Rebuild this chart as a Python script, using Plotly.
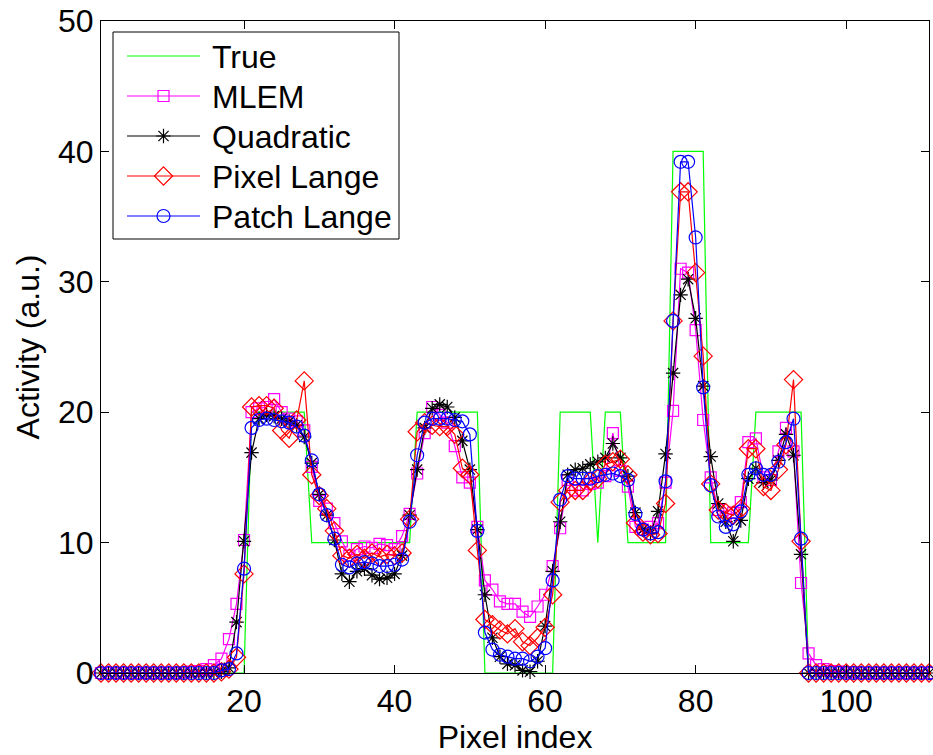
import plotly.graph_objects as go

pixel_index = list(range(1, 112))

true_vals = [0]*20 + [20]*8 + [10]*14 + [20]*9 + [0]*10 + [20]*5 + [10] + [20]*3 + [10]*6 + [40]*5 + [10]*6 + [20]*7 + [0]*17

mlem = [0, 0, 0, 0, 0, 0, 0, 0, 0, 0, 0, 0.05, 0.1, 0.15,
        0.3, 0.6, 1.1, 2.6, 5.3, 10.2,
        20.0, 20.3, 20.4, 21.0, 20.0, 19.5, 19.3, 18.6,
        15.8, 13.2, 12.6, 11.5, 10.1, 9.0, 9.5, 9.7, 9.6, 9.9, 9.8, 9.5, 10.5, 12.2,
        15.3, 18.4, 20.4, 19.8, 19.2, 17.4, 15.0, 14.6, 11.2,
        7.1, 6.4, 5.5, 5.3, 5.3, 4.7, 4.3, 5.1, 6.0, 8.2,
        11.1, 14.8, 14.0, 14.0, 14.5, 14.6, 15.1, 18.4, 15.5,
        14.3, 11.2, 11.0, 11.2, 11.5, 14.6,
        20.1, 31.0, 30.7, 26.3, 19.4,
        15.0, 12.5, 12.0, 12.3, 13.1, 17.7,
        18.0, 15.0, 14.8, 17.0, 18.8, 17.0, 6.9,
        1.5, 0.6, 0.3, 0.15, 0.1, 0.05, 0.05, 0, 0, 0, 0, 0, 0, 0, 0, 0, 0]

quadratic = [0, 0, 0, 0, 0, 0, 0, 0, 0, 0, 0, 0, 0, 0, 0, 0,
             0.1, 0.4, 3.9, 10.1,
             16.9, 19.5, 19.8, 19.7, 19.5, 19.3, 19.0, 18.1,
             16.1, 13.7, 12.1, 10.2, 7.6, 7.0, 7.8, 8.0, 7.5, 7.2, 7.3, 7.6, 9.0, 12.1,
             15.6, 18.8, 20.3, 20.6, 20.4, 19.6, 17.8, 15.6, 11.0,
             6.0, 2.7, 1.25, 0.7, 0.6, 0.2, 0.1, 0.9, 3.6, 7.8,
             11.6, 15.2, 15.6, 15.7, 16.0, 16.2, 16.5, 17.6, 16.5,
             15.1, 12.3, 11.0, 10.7, 12.4, 16.8,
             23.0, 29.0, 30.2, 27.2, 22.0,
             16.6, 13.0, 11.6, 10.1, 11.7, 14.9,
             15.7, 14.6, 14.8, 16.3, 18.3, 16.7, 9.1,
             0, 0, 0, 0, 0, 0, 0, 0, 0, 0, 0, 0, 0, 0, 0, 0, 0]

pixel_lange = [0, 0, 0, 0, 0, 0, 0, 0, 0, 0, 0, 0, 0, 0, 0, 0,
               0.1, 0.3, 1.2, 7.6,
               20.4, 20.5, 20.5, 20.3, 18.6, 18.0, 19.4, 22.4,
               15.2, 13.6, 12.6, 10.9, 9.0, 8.8, 9.1, 8.8, 9.2, 8.9, 9.1, 9.0, 9.2, 11.8,
               18.5, 19.2, 19.0, 18.9, 18.9, 18.3, 15.7, 15.2, 9.4,
               4.1, 3.7, 3.3, 3.0, 3.4, 2.4, 2.1, 2.7, 3.5, 6.0,
               13.1, 14.0, 14.0, 14.0, 14.7, 14.9, 16.0, 16.2, 16.4,
               15.2, 11.5, 10.8, 10.6, 10.7, 13.0,
               27.0, 36.9, 36.9, 30.7, 24.3,
               14.5, 12.5, 12.3, 12.1, 12.6, 17.2,
               17.2, 14.3, 14.0, 15.6, 17.5, 22.5, 10.1,
               0, 0, 0, 0, 0, 0, 0, 0, 0, 0, 0, 0, 0, 0, 0, 0, 0]

patch_lange = [0, 0, 0, 0, 0, 0, 0, 0, 0, 0, 0, 0, 0, 0, 0, 0,
               0.2, 0.3, 1.5, 8.0,
               18.8, 19.4, 19.5, 19.4, 19.3, 19.2, 18.9, 18.2,
               16.3, 13.7, 12.1, 10.3, 8.3, 8.1, 8.4, 8.5, 8.4, 8.2, 8.2, 8.3, 8.7, 11.6,
               16.7, 19.2, 19.5, 19.5, 19.5, 19.4, 19.3, 18.3, 10.9,
               3.1, 1.8, 1.4, 1.25, 1.1, 1.1, 0.9, 1.25, 1.9, 7.1,
               13.3, 15.1, 14.9, 14.9, 14.9, 15.1, 15.2, 15.3, 15.1,
               14.8, 12.2, 11.0, 10.7, 10.8, 14.7,
               27.0, 39.2, 39.2, 33.4, 21.9,
               14.4, 12.0, 11.2, 11.4, 12.4, 15.2,
               15.7, 15.2, 15.2, 16.2, 17.7, 19.5, 10.3,
               0, 0, 0, 0, 0, 0, 0, 0, 0, 0, 0, 0, 0, 0, 0, 0, 0]

series_names = ["True", "MLEM", "Quadratic", "Pixel Lange", "Patch Lange"]
series_values = [true_vals, mlem, quadratic, pixel_lange, patch_lange]
series_colors = ["#00ff00", "#ff00ff", "#000000", "#ff0000", "#0000ff"]
series_symbols = [None, "square-open", "asterisk-open", "diamond-open", "circle-open"]
series_sizes = [0, 11, 12, 14, 13]

x_tick_vals = [20, 40, 60, 80, 100]
y_tick_vals = [0, 10, 20, 30, 40, 50]

FONT = "Liberation Sans, Arial, sans-serif"

# plot-area geometry in pixels (used only for the hand-built legend overlay)
PL, PR, PT, PB = 101, 929, 21, 673
W, H = 933, 755

fig = go.Figure()
for name, vals, col, sym, sz in zip(series_names, series_values, series_colors, series_symbols, series_sizes):
    if sym is None:
        fig.add_trace(go.Scatter(x=pixel_index, y=vals, name=name, mode="lines",
                                 line=dict(color=col, width=1.2), cliponaxis=False,
                                 showlegend=False))
    else:
        fig.add_trace(go.Scatter(x=pixel_index, y=vals, name=name, mode="lines+markers",
                                 line=dict(color=col, width=1.2),
                                 marker=dict(symbol=sym, size=sz, color=col,
                                             line=dict(width=1.2, color=col)),
                                 cliponaxis=False, showlegend=False))

# legend overlay (pixel-coordinate axis)
LEG_X0, LEG_X1, LEG_Y0, LEG_Y1 = 113, 399, 32, 239
row_y = [56, 96, 136, 176, 216]
line_x0, line_x1, text_x = 127, 200, 210
for name, col, sym, sz, ry in zip(series_names, series_colors, series_symbols, series_sizes, row_y):
    fig.add_trace(go.Scatter(x=[line_x0, line_x1], y=[ry, ry], mode="lines",
                             line=dict(color=col, width=1.2), xaxis="x2", yaxis="y2",
                             showlegend=False, hoverinfo="skip"))
    if sym is not None:
        fig.add_trace(go.Scatter(x=[(line_x0 + line_x1) / 2], y=[ry], mode="markers",
                                 marker=dict(symbol=sym, size=sz, color=col,
                                             line=dict(width=1.2, color=col)),
                                 xaxis="x2", yaxis="y2", showlegend=False, hoverinfo="skip"))
    fig.add_annotation(x=text_x, y=ry, xref="x2", yref="y2", text=name, showarrow=False,
                       xanchor="left", yanchor="middle", yshift=-1,
                       font=dict(size=32, family=FONT, color="black"))

fig.add_shape(type="rect", xref="x2", yref="y2", x0=LEG_X0, x1=LEG_X1, y0=LEG_Y0, y1=LEG_Y1,
              line=dict(color="black", width=1), fillcolor="white", layer="below")

axis_common = dict(showline=True, linecolor="black", linewidth=1, mirror="ticks",
                   ticks="inside", ticklen=8, tickcolor="black", showgrid=False,
                   zeroline=False, tickfont=dict(size=32, color="black", family=FONT))

fig.update_xaxes(range=[1, 111], tickvals=x_tick_vals,
                 title=dict(text="Pixel index", font=dict(size=32, color="black", family=FONT), standoff=4),
                 **axis_common, selector=dict(anchor="y"))
fig.update_layout(
    xaxis=dict(range=[1, 111], tickvals=x_tick_vals,
               title=dict(text="Pixel index", font=dict(size=32, color="black", family=FONT), standoff=4),
               **axis_common),
    yaxis=dict(range=[0, 50], tickvals=y_tick_vals,
               title=dict(text="Activity (a.u.)", font=dict(size=32, color="black", family=FONT), standoff=8),
               **axis_common),
    xaxis2=dict(range=[PL, PR], overlaying="x", visible=False, anchor="y2", fixedrange=True),
    yaxis2=dict(range=[PB, PT], overlaying="y", visible=False, anchor="x2", fixedrange=True),
    width=W, height=H,
    margin=dict(l=PL, r=W - PR, t=PT, b=H - PB),
    paper_bgcolor="white", plot_bgcolor="white",
    font=dict(family=FONT, size=32, color="black"),
    showlegend=False,
)

fig.write_html("out.html")
